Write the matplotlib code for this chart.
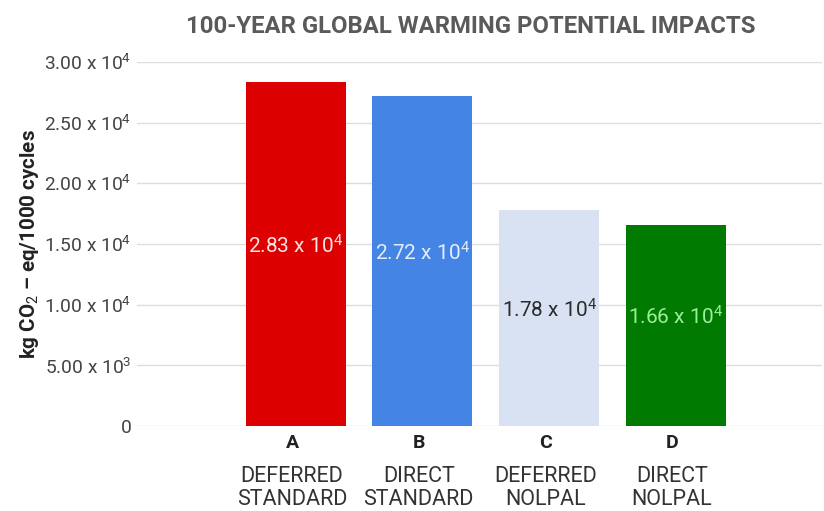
import numpy as np
import matplotlib
matplotlib.use("Agg")
import matplotlib.pyplot as plt
from matplotlib.ticker import FuncFormatter

plt.rcParams['font.family'] = ['Roboto', 'DejaVu Sans']
plt.rcParams['mathtext.fontset'] = 'custom'
plt.rcParams['mathtext.rm'] = 'Roboto'
plt.rcParams['mathtext.it'] = 'Roboto:italic'
plt.rcParams['mathtext.bf'] = 'Roboto:bold'

# scenario data
letters = ['A', 'B', 'C', 'D']
scenarios = ['DEFERRED\nSTANDARD', 'DIRECT\nSTANDARD', 'DEFERRED\nNOLPAL', 'DIRECT\nNOLPAL']
gwp = [2.83e4, 2.72e4, 1.78e4, 1.66e4]
bar_colors = ['#dc0000', '#4484e4', '#d9e2f3', '#017a01']
label_colors = ['#fbe4e4', '#e4edfc', '#2b2b2b', '#9af09a']
yticks = [0, 5000, 10000, 15000, 20000, 25000, 30000]


def sci_label(v):
    if v == 0:
        return '0'
    exp = int(np.floor(np.log10(v)))
    return r'%.2f x 10$^{%d}$' % (v / 10 ** exp, exp)


fig = plt.figure(figsize=(8.24, 5.11), dpi=100)
ax = fig.add_axes([0.166, 0.166, 0.832, 0.713])

x = np.arange(len(gwp))
ax.bar(x, gwp, width=0.79, color=bar_colors, zorder=3)

for xi, v, c in zip(x, gwp, label_colors):
    ax.text(xi, v / 2 + 700, sci_label(v), ha='center', va='center',
            color=c, fontsize=15, zorder=4)

ax.set_xlim(-1.257, 4.16)
ax.set_ylim(0, 30000)
ax.set_yticks(yticks)
ax.yaxis.set_major_formatter(FuncFormatter(lambda v, p: sci_label(v)))
ax.tick_params(axis='y', length=0, pad=4, labelsize=13.8, labelcolor='#444444')
ax.set_xticks([])
ax.grid(axis='y', color='#dddddd', linewidth=1, zorder=0)
for s in ax.spines.values():
    s.set_visible(False)

# category labels below the axis
for xi, letter, name in zip(x, letters, scenarios):
    ax.text(xi - 0.03, -1350, letter, ha='center', va='center',
            fontsize=14, fontweight='bold', color='#222222')
    ax.text(xi - 0.03, -5100, name, ha='center', va='center',
            fontsize=15.5, color='#333333', linespacing=1.1)

ax.set_ylabel(r'kg CO$_2$ – eq/1000 cycles', fontsize=14.8, fontweight='bold',
              color='#222222', va='center')
ax.yaxis.set_label_coords(-0.156, 0.5)

fig.text(0.571, 0.948, '100-YEAR GLOBAL WARMING POTENTIAL IMPACTS', ha='center',
         va='center', fontsize=17.2, fontweight='bold', color='#5a5a5a')

fig.savefig('out.png', dpi=100)
